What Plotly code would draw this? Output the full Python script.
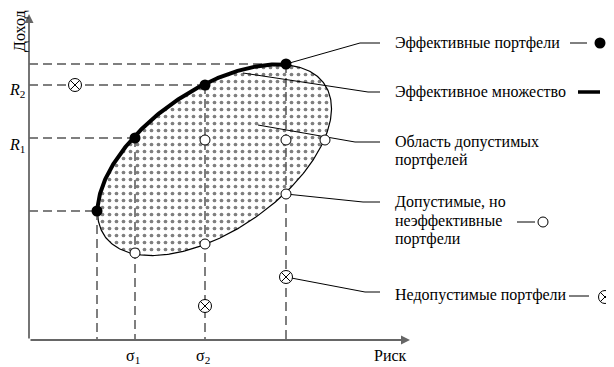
import numpy as np
import plotly.graph_objects as go

# ---------------- data (risk = X, return = Y) ----------------
eff_risk = [68, 106, 176, 257]
eff_return = [129, 202, 255, 276]
feas_risk = [106, 176, 257, 296, 176, 257]
feas_return = [87, 96, 146, 200, 200, 200]
infeas_risk = [46, 176, 257]
infeas_return = [255, 34, 63]

sigma_labels = ["σ<sub>1</sub>", "σ<sub>2</sub>"]
sigma_values = [106, 176]
r_labels = ["<i>R</i><sub>1</sub>", "<i>R</i><sub>2</sub>"]
r_values = [200, 255]

label_lines = [
    ["Эффективные портфели"],
    ["Эффективное множество"],
    ["Область допустимых", "портфелей"],
    ["Допустимые, но", "неэффективные", "портфели"],
    ["Недопустимые портфели"],
]
label_y = [[297], [248], [198, 180], [138, 119, 101], [45]]
leader_paths = [
    [(257, 276), (331, 297), (351, 297)],
    [(214, 267), (339, 248), (351, 248)],
    [(229, 215), (326, 198), (351, 198)],
    [(257, 146), (334, 138), (351, 138)],
    [(257, 63), (336, 48), (351, 48)],
]

# ellipse of feasible set
E_CX, E_CY, E_W, E_H, E_SLOPE = 185.5, 180.0, 117.0, 80.5, 0.44

FONT = "Liberation Serif"
FS = 16
DASH_COLOR = "#555555"
AXIS_COLOR = "#666666"

fig = go.Figure()

# feasible region (dotted)
t = np.linspace(0, 2 * np.pi, 400)
ex = E_CX + E_W * np.cos(t)
ey = E_CY + E_SLOPE * E_W * np.cos(t) + E_H * np.sin(t)
fig.add_trace(go.Scatter(
    x=ex, y=ey, mode="lines", fill="toself",
    fillcolor="white",
    fillpattern=dict(shape=".", size=7, solidity=0.22, fgcolor="black", bgcolor="white"),
    line=dict(color="black", width=1.2), hoverinfo="skip"))

# dashed guide lines
def dline(x0, y0, x1, y1, dash="9px,5px"):
    fig.add_trace(go.Scatter(x=[x0, x1], y=[y0, y1], mode="lines",
                             line=dict(color=DASH_COLOR, width=1.5, dash=dash),
                             hoverinfo="skip"))

all_x = eff_risk + feas_risk + infeas_risk
all_y = eff_return + feas_return + infeas_return
for xr, yr in zip(eff_risk, eff_return):
    xmax = max([xx for xx, yy in zip(all_x, all_y) if abs(yy - yr) < 1] + [xr])
    dline(0, yr, xmax, yr)
    dline(xr, yr, xr, 0)

# efficient frontier (upper arc of ellipse from leftmost point to top point)
t0 = np.arccos((max(eff_risk) - E_CX) / E_W)
ta = np.linspace(t0, np.pi, 200)
fig.add_trace(go.Scatter(
    x=E_CX + E_W * np.cos(ta),
    y=E_CY + E_SLOPE * E_W * np.cos(ta) + E_H * np.sin(ta),
    mode="lines", line=dict(color="black", width=4), hoverinfo="skip"))

# leader lines
for path in leader_paths:
    fig.add_trace(go.Scatter(x=[p[0] for p in path], y=[p[1] for p in path],
                             mode="lines", line=dict(color="black", width=1),
                             hoverinfo="skip"))

# legend glyph lines
for x0, x1, yy, w in [(541, 558, 297, 1), (549, 571, 248, 3.5),
                      (488, 506, 118, 1), (540, 560, 44, 1)]:
    fig.add_trace(go.Scatter(x=[x0, x1], y=[yy, yy], mode="lines",
                             line=dict(color="black", width=w), hoverinfo="skip"))

# markers
fig.add_trace(go.Scatter(x=eff_risk + [571], y=eff_return + [297], mode="markers",
                         marker=dict(symbol="circle", size=11, color="black"),
                         hoverinfo="skip"))
fig.add_trace(go.Scatter(x=feas_risk + [514], y=feas_return + [118], mode="markers",
                         marker=dict(symbol="circle", size=10, color="white",
                                     line=dict(color="black", width=1)),
                         hoverinfo="skip"))
fig.add_trace(go.Scatter(x=infeas_risk + [576], y=infeas_return + [43], mode="markers",
                         marker=dict(symbol="circle-x", size=13, color="white",
                                     line=dict(color="black", width=1)),
                         hoverinfo="skip"))

ann = []
# axes with arrows
ann.append(dict(x=381, y=0, ax=0, ay=0, xref="x", yref="y", axref="x", ayref="y",
                showarrow=True, arrowhead=2, arrowsize=1, arrowwidth=1.8,
                arrowcolor=AXIS_COLOR, text=""))
ann.append(dict(x=0, y=326, ax=0, ay=0, xref="x", yref="y", axref="x", ayref="y",
                showarrow=True, arrowhead=2, arrowsize=1, arrowwidth=1.8,
                arrowcolor=AXIS_COLOR, text=""))

font = dict(family=FONT, size=FS, color="black")
ann.append(dict(x=-20, y=309, text="Доход", textangle=-90, showarrow=False,
                xanchor="left", xref="x", yref="y", font=font))
ann.append(dict(x=343, y=-15, text="Риск", showarrow=False, xanchor="left",
                xref="x", yref="y", font=font))
for lab, v in zip(sigma_labels, sigma_values):
    ann.append(dict(x=v - 2, y=-16, text=lab, showarrow=False, xref="x", yref="y",
                    font=font))
for lab, v in zip(r_labels, r_values):
    ann.append(dict(x=-2, y=v - 5, text=lab, showarrow=False, xanchor="right",
                    xref="x", yref="y", font=font))
for lines, ys in zip(label_lines, label_y):
    for txt, yy in zip(lines, ys):
        ann.append(dict(x=364, y=yy, text=txt, showarrow=False, xanchor="left",
                        xref="x", yref="y", font=font))

# page body has an 8px margin: figure is 8px smaller and offset
fig.update_layout(
    width=606, height=359, margin=dict(l=0, r=0, t=0, b=0),
    paper_bgcolor="white", plot_bgcolor="white", showlegend=False,
    xaxis=dict(range=[-21, 585], visible=False, fixedrange=True),
    yaxis=dict(range=[-27, 332], visible=False, fixedrange=True),
    annotations=ann,
)
fig.write_html("out.html")
